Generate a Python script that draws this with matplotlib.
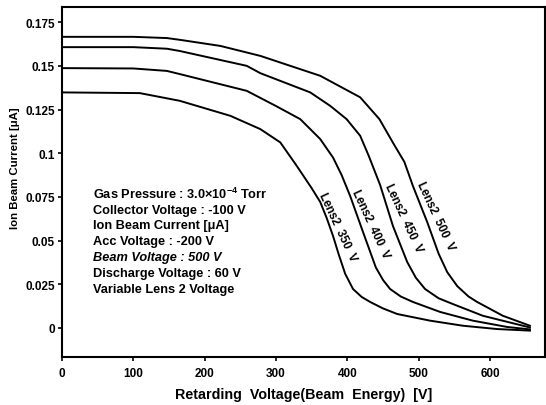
import matplotlib
matplotlib.use("Agg")
import matplotlib.pyplot as plt

plt.rcParams['font.family'] = ['Liberation Sans', 'DejaVu Sans']
plt.rcParams['mathtext.fontset'] = 'custom'
plt.rcParams['mathtext.rm'] = 'Liberation Sans:bold'
plt.rcParams['mathtext.it'] = 'Liberation Sans:italic:bold'
plt.rcParams['mathtext.bf'] = 'Liberation Sans:bold'

# retarding voltage (V) and ion beam current (uA)
x350 = [0, 109, 165, 236, 278, 306, 329, 350, 362, 371, 380, 388, 397, 408, 420, 432, 450,
        470, 516, 562, 610, 656]
y350 = [0.1348, 0.1344, 0.1300, 0.1214, 0.1138, 0.1062, 0.0928, 0.0800, 0.0721, 0.0630,
        0.0526, 0.0420, 0.0310, 0.0223, 0.0178, 0.0149, 0.0112, 0.0080, 0.0042, 0.0013,
        -0.0006, -0.0015]

x400 = [0, 100, 147, 165, 259, 300, 334, 362, 380, 392, 404, 422, 440, 450, 460, 475, 492,
        530, 576, 624, 656]
y400 = [0.1487, 0.1485, 0.1471, 0.1453, 0.1357, 0.1270, 0.1195, 0.1081, 0.0975, 0.0875,
        0.0755, 0.0549, 0.0346, 0.0275, 0.0223, 0.0180, 0.0149, 0.0092, 0.0042, 0.0006,
        -0.0008]

x450 = [0, 100, 147, 165, 259, 278, 348, 376, 399, 418, 430, 446, 464, 484, 496, 509, 528,
        548, 590, 656]
y450 = [0.1607, 0.1607, 0.1598, 0.1585, 0.1500, 0.1458, 0.1348, 0.1271, 0.1195, 0.1100,
        0.0985, 0.0818, 0.0583, 0.0377, 0.0288, 0.0223, 0.0170, 0.0137, 0.0070, 0.0003]

x500 = [0, 100, 147, 165, 222, 278, 362, 418, 445, 464, 480, 492, 512, 528, 540, 554, 570,
        582, 618, 656]
y500 = [0.1666, 0.1666, 0.1659, 0.1649, 0.1614, 0.1557, 0.1443, 0.1320, 0.1195, 0.1060,
        0.0950, 0.0812, 0.0606, 0.0425, 0.0320, 0.0240, 0.0180, 0.0149, 0.0070, 0.0013]

series = [(x350, y350), (x400, y400), (x450, y450), (x500, y500)]
labels = ['Lens2  350  V', 'Lens2  400  V', 'Lens2  450  V', 'Lens2  500  V']
label_pos = [(386, 0.0583), (432, 0.0600), (479, 0.0632), (524, 0.0643)]

xticks = [0, 100, 200, 300, 400, 500, 600]
yticks = [0, 0.025, 0.05, 0.075, 0.1, 0.125, 0.15, 0.175]
ytick_labels = ['0', '0.025', '0.05', '0.075', '0.1', '0.125', '0.15', '0.175']

notes = [
    (r'Gas Pressure : 3.0$\times$10$^{-4}$ Torr', 'normal'),
    ('Collector Voltage : -100 V', 'normal'),
    ('Ion Beam Current [μA]', 'normal'),
    ('Acc Voltage : -200 V', 'normal'),
    ('Beam Voltage : 500 V', 'italic'),
    ('Discharge Voltage : 60 V', 'normal'),
    ('Variable Lens 2 Voltage', 'normal'),
]

fig = plt.figure(figsize=(5.46, 4.06), dpi=100)
ax = fig.add_axes([0.1136, 0.1182, 0.8844, 0.8618])

for xs, ys in series:
    ax.plot(xs, ys, color='black', lw=1.4, solid_joinstyle='round')

for txt, (lx, ly) in zip(labels, label_pos):
    ax.text(lx, ly, txt, rotation=-65, rotation_mode='anchor', ha='center', va='center',
            fontsize=8.5, fontweight='bold', color='black')

for i, (txt, st) in enumerate(notes):
    ax.text(43, 0.0768 - i * 0.00905, txt, fontsize=9.2, fontweight='bold', style=st,
            va='center', ha='left')

ax.set_xlim(0, 677)
ax.set_ylim(-0.0166, 0.1836)
ax.set_xticks(xticks)
ax.set_xticklabels([str(t) for t in xticks])
ax.set_yticks(yticks)
ax.set_yticklabels(ytick_labels)
ax.tick_params(direction='out', length=3, width=1.2, labelsize=8.5)
ax.tick_params(axis='x', pad=4)
ax.tick_params(axis='y', pad=2)
for lab in ax.get_xticklabels() + ax.get_yticklabels():
    lab.set_fontweight('bold')
for s in ax.spines.values():
    s.set_linewidth(1.5)

ax.set_xlabel('Retarding  Voltage(Beam  Energy)  [V]', fontsize=10.3, fontweight='bold')
ax.xaxis.set_label_coords(0.5, -0.087)
ax.set_ylabel('Ion Beam Current [μA]', fontsize=8.2, fontweight='bold')
ax.yaxis.set_label_coords(-0.088, 0.543)

fig.savefig('out.png', dpi=100)
